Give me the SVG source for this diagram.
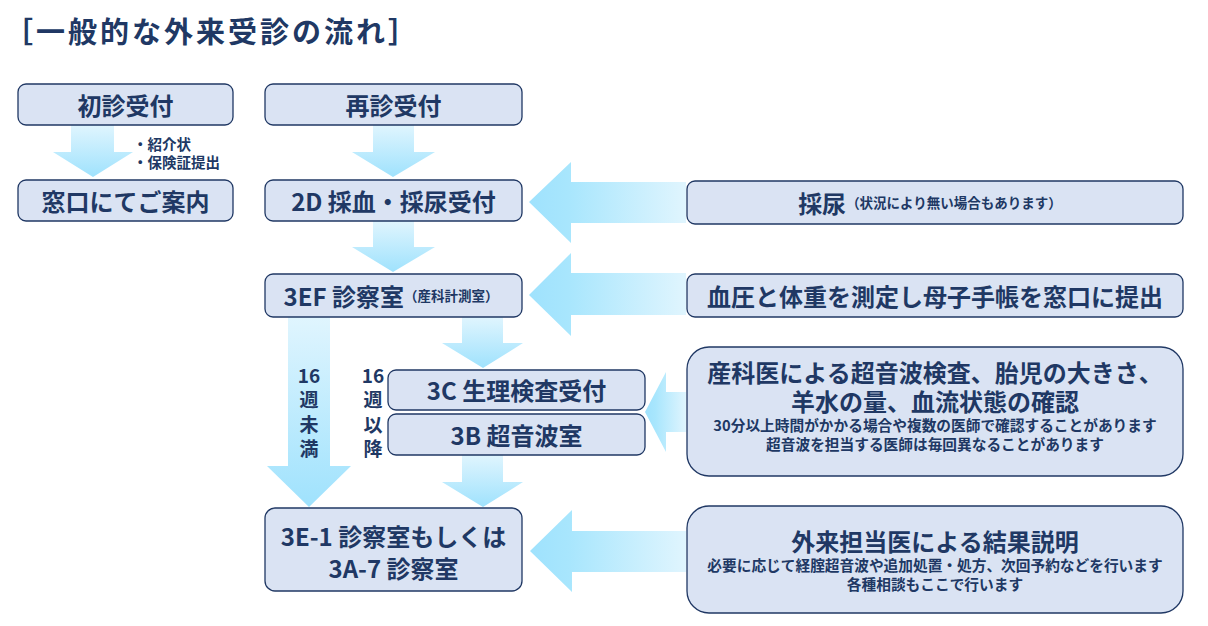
<svg xmlns="http://www.w3.org/2000/svg" width="1208" height="626" viewBox="0 0 1208 626">
<style>
.box{fill:#dae3f3;stroke:#203864;stroke-width:1.3}
.t{font-family:"Noto Sans CJK JP","Noto Sans",sans-serif;font-weight:bold;fill:#203864;text-anchor:middle;dominant-baseline:central}
.m{font-size:24px}
.s{font-size:13.5px}
.n{font-size:14.7px}
.v{font-size:19px}
.dn{fill:url(#gdn)}
.lf{fill:url(#glf)}
</style>
<defs>
<linearGradient id="gdn" x1="0" y1="0" x2="0" y2="1">
<stop offset="0" stop-color="#e0f5fe"/>
<stop offset="1" stop-color="#9fe2fd"/>
</linearGradient>
<linearGradient id="glf" x1="1" y1="0" x2="0" y2="0">
<stop offset="0" stop-color="#e0f5fe"/>
<stop offset="0.75" stop-color="#a8e6fd"/>
<stop offset="1" stop-color="#9fe2fd"/>
</linearGradient>
</defs>
<rect width="1208" height="626" fill="#ffffff"/>
<text class="t" x="4" y="30" style="font-size:29px;letter-spacing:3px;text-anchor:start">［一般的な外来受診の流れ］</text>

<g id="connectors">
<polygon class="dn" points="71,125 114,125 114,152 133,152 93,177 53,152 71,152"/>
<polygon class="dn" points="373,125 414,125 414,152 435,152 393,177 352,152 373,152"/>
<polygon class="dn" points="373,221 414,221 414,247 435,247 393,272 352,247 373,247"/>
<polygon class="dn" points="462,317 503,317 503,343 523,343 483,368 442,343 462,343"/>
<polygon class="dn" points="288,317 330,317 330,466 351,466 309,507 267,466 288,466"/>
<polygon class="dn" points="462,455 503,455 503,482 523,482 483,507 442,482 462,482"/>
<polygon class="lf" points="686,182 686,223 571,223 571,243 529,202 571,162 571,182"/>
<polygon class="lf" points="686,273 686,315 571,315 571,336 529,295 571,253 571,273"/>
<polygon class="lf" points="686,392 686,432 666,432 666,452 645,412 666,372 666,392"/>
<polygon class="lf" points="686,531 686,572 572,572 572,592 530,551 572,510 572,531"/>
</g>

<g id="note">
<text class="t" x="133" y="143" style="font-size:14.5px;text-anchor:start">・紹介状</text>
<text class="t" x="133" y="161" style="font-size:14.5px;text-anchor:start">・保険証提出</text>
</g>
<g id="label-lt16">
<text class="t v" x="309" y="374">16</text>
<text class="t v" x="309" y="398.5">週</text>
<text class="t v" x="309" y="423">未</text>
<text class="t v" x="309" y="447.5">満</text>
</g>
<g id="label-ge16">
<text class="t v" x="373" y="374">16</text>
<text class="t v" x="373" y="398.5">週</text>
<text class="t v" x="373" y="423">以</text>
<text class="t v" x="373" y="447.5">降</text>
</g>

<g id="n-shoshin">
<rect class="box" x="18" y="84" width="215" height="41" rx="8"/>
<text class="t m" x="125.5" y="104">初診受付</text>
</g>
<g id="n-saishin">
<rect class="box" x="265" y="84" width="257" height="41" rx="8"/>
<text class="t m" x="393.5" y="104">再診受付</text>
</g>
<g id="n-madoguchi">
<rect class="box" x="18" y="180" width="215" height="41" rx="8"/>
<text class="t m" x="125.5" y="200">窓口にてご案内</text>
</g>
<g id="n-2d">
<rect class="box" x="265" y="180" width="257" height="41" rx="8"/>
<text class="t m" x="393.5" y="200">2D 採血・採尿受付</text>
</g>
<g id="n-sainyo">
<rect class="box" x="687" y="181" width="496" height="43" rx="8"/>
<text class="t" x="930" y="202"><tspan class="m">採尿</tspan><tspan class="s">（状況により無い場合もあります）</tspan></text>
</g>
<g id="n-3ef">
<rect class="box" x="265" y="274" width="257" height="43" rx="8"/>
<text class="t" x="391" y="295"><tspan class="m">3EF 診察室</tspan><tspan class="s">（産科計測室）</tspan></text>
</g>
<g id="n-ketsuatsu">
<rect class="box" x="687" y="274" width="496" height="43" rx="8"/>
<text class="t m" x="935" y="295">血圧と体重を測定し母子手帳を窓口に提出</text>
</g>
<g id="n-3c">
<rect class="box" x="388" y="370" width="257" height="40" rx="8"/>
<text class="t m" x="516.5" y="389">3C 生理検査受付</text>
</g>
<g id="n-3b">
<rect class="box" x="388" y="414" width="257" height="41" rx="8"/>
<text class="t m" x="516.5" y="434">3B 超音波室</text>
</g>
<g id="n-sankai">
<rect class="box" x="687" y="347" width="496" height="129" rx="22"/>
<text class="t m" x="935" y="371">産科医による超音波検査、胎児の大きさ、</text>
<text class="t m" x="935" y="400">羊水の量、血流状態の確認</text>
<text class="t n" x="935" y="424">30分以上時間がかかる場合や複数の医師で確認することがあります</text>
<text class="t n" x="935" y="443">超音波を担当する医師は毎回異なることがあります</text>
</g>
<g id="n-3e1">
<rect class="box" x="265" y="508" width="257" height="83" rx="10"/>
<text class="t m" x="393.5" y="535">3E-1 診察室もしくは</text>
<text class="t m" x="393.5" y="567">3A-7 診察室</text>
</g>
<g id="n-gairai">
<rect class="box" x="687" y="506" width="496" height="107" rx="22"/>
<text class="t m" x="935" y="540">外来担当医による結果説明</text>
<text class="t n" x="935" y="564">必要に応じて経腟超音波や追加処置・処方、次回予約などを行います</text>
<text class="t n" x="935" y="583">各種相談もここで行います</text>
</g>
</svg>
